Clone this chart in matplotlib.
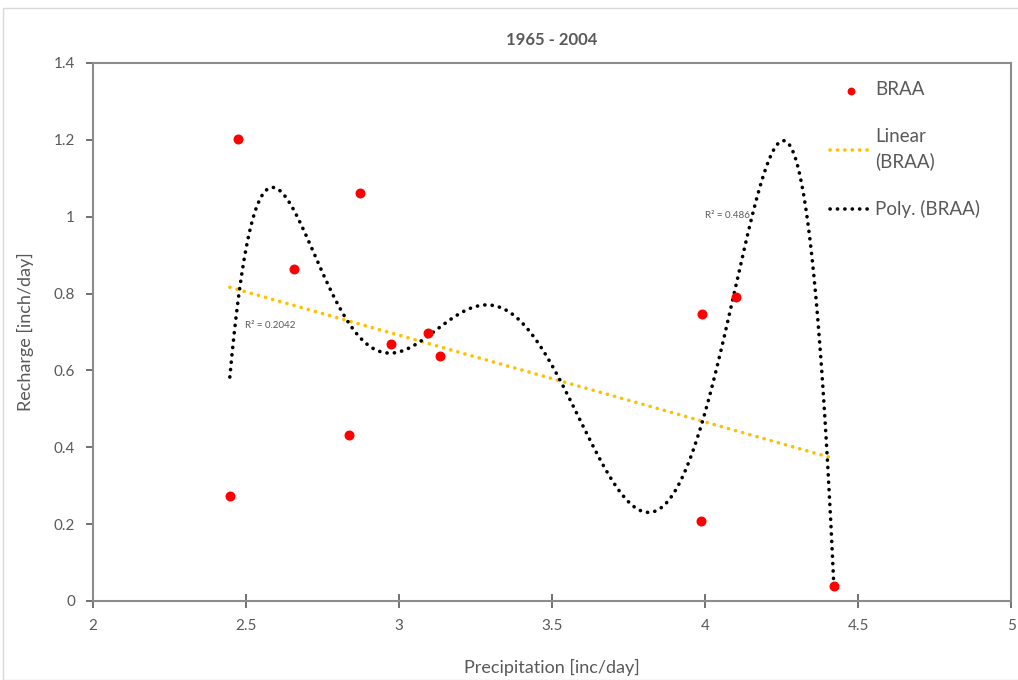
import numpy as np
import matplotlib.pyplot as plt
from matplotlib.patches import Rectangle

# data
precip = [2.447, 2.475, 2.656, 2.838, 2.873, 2.975, 3.094, 3.135, 3.991, 3.987, 4.101, 4.421]
recharge = [0.273, 1.201, 0.864, 0.431, 1.062, 0.670, 0.698, 0.638, 0.747, 0.207, 0.792, 0.040]

x_ticks = [2, 2.5, 3, 3.5, 4, 4.5, 5]
y_ticks = [0, 0.2, 0.4, 0.6, 0.8, 1, 1.2, 1.4]
r2_lin_text = "R² = 0.2042"
r2_poly_text = "R² = 0.486"

GRAY = "#595959"
plt.rcParams["font.family"] = ["Lato", "DejaVu Sans"]

x = np.array(precip)
y = np.array(recharge)

fig = plt.figure(figsize=(10.18, 6.8), dpi=100)
ax = fig.add_axes([0.0914, 0.1162, 0.9018, 0.7912])

# outer chart frame
fig.patches.append(Rectangle((0.003, 0.0), 1.0, 0.988, transform=fig.transFigure,
                             fill=False, edgecolor="#d9d9d9", linewidth=1))

ax.scatter(x, y, s=38, color="#ff0000", zorder=3, label="BRAA")

dots = (0, (0.05, 2.0))
xs = np.linspace(x.min(), x.max(), 600)
lin = np.polyfit(x, y, 1)
ax.plot(xs, np.polyval(lin, xs), linestyle=dots, color="#ffc000",
        linewidth=2.6, dash_capstyle="round", label="Linear\n(BRAA)")
poly = np.polyfit(x, y, 6)
ax.plot(xs, np.polyval(poly, xs), linestyle=dots, color="black",
        linewidth=2.6, dash_capstyle="round", label="Poly. (BRAA)")

ax.text(2.497, 0.716, r2_lin_text, fontsize=7, color=GRAY, va="center")
ax.text(4.0, 1.002, r2_poly_text, fontsize=7, color=GRAY, va="center")

ax.set_xlim(2, 5)
ax.set_ylim(0, 1.4)
ax.set_xticks(x_ticks)
ax.set_xticklabels([f"{t:g}" for t in x_ticks])
ax.set_yticks(y_ticks)
ax.set_yticklabels([f"{t:g}" for t in y_ticks])
ax.tick_params(colors=GRAY, labelsize=11, length=5, width=1.2, pad=8)
ax.tick_params(axis="x", direction="inout", length=10)
for s in ax.spines.values():
    s.set_color("#8c8c8c")
    s.set_linewidth(1.5)

ax.set_title("1965 - 2004", fontsize=12, fontweight="bold", color=GRAY, pad=13)
ax.set_xlabel("Precipitation [inc/day]", fontsize=13, color=GRAY, labelpad=19)
ax.set_ylabel("Recharge [inch/day]", fontsize=13, color=GRAY, labelpad=14)

leg = ax.legend(loc="upper right", bbox_to_anchor=(0.985, 0.997), frameon=False,
                fontsize=13.5, labelcolor=GRAY, handlelength=2.2,
                labelspacing=1.6, handletextpad=0.2, markerscale=0.75)
for t in leg.get_texts():
    t.set_linespacing(1.45)

fig.savefig("out.png", dpi=100)
